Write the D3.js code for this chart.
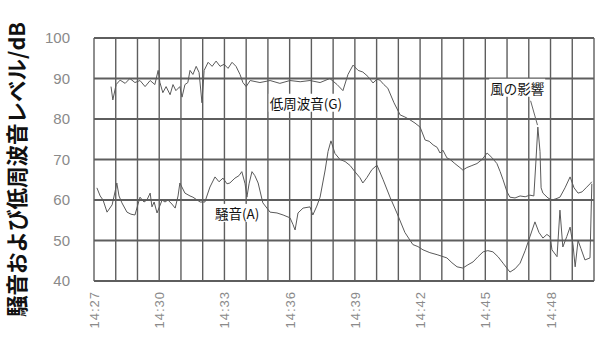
<!DOCTYPE html>
<html>
<head>
<meta charset="utf-8">
<script src="https://cdn.jsdelivr.net/npm/d3@7"></script>
<style>
  html, body { margin: 0; padding: 0; background: #fff; }
  svg { display: block; }
</style>
</head>
<body>
<svg id="chart" width="597" height="347"></svg>
<script>
// Low-frequency sound level (G-weighted), dB
const timesG = [
  "14:27:47","14:27:52","14:28:01","14:28:12","14:28:26","14:28:39","14:28:53","14:29:07","14:29:21","14:29:35",
  "14:29:48","14:29:57","14:30:02","14:30:10","14:30:19","14:30:30","14:30:38","14:30:46","14:30:57","14:31:03",
  "14:31:11","14:31:19","14:31:25","14:31:33","14:31:42","14:31:50","14:31:58","14:32:04","14:32:15","14:32:26",
  "14:32:37","14:32:48","14:32:59","14:33:10","14:33:21","14:33:32","14:33:43","14:33:51","14:34:00","14:34:11",
  "14:34:38","14:35:06","14:35:33","14:36:01","14:36:29","14:36:56","14:37:24","14:37:51","14:38:11","14:38:27",
  "14:38:41","14:38:55","14:39:09","14:39:22","14:39:36","14:39:50","14:40:01","14:40:09","14:40:20","14:40:31",
  "14:40:48","14:41:05","14:41:18","14:41:32","14:41:46","14:42:00","14:42:14","14:42:25","14:42:36","14:42:47",
  "14:42:55","14:43:03","14:43:14","14:43:23","14:43:36","14:43:50","14:43:58","14:44:09","14:44:23","14:44:37",
  "14:44:51","14:45:05","14:45:18","14:45:32","14:45:41","14:45:49","14:46:00","14:46:08","14:46:22","14:46:36",
  "14:46:50","14:47:03","14:47:14","14:47:20","14:47:25","14:47:31","14:47:34","14:47:39","14:47:53","14:48:04",
  "14:48:15","14:48:26","14:48:40","14:48:54","14:49:05","14:49:16","14:49:27","14:49:38","14:49:49","14:49:54"
];
const levelG = [
  88.0,84.7,88.5,89.6,88.8,90.0,89.0,89.5,88.0,89.5,
  88.5,92.0,89.0,86.5,88.0,86.0,88.5,87.0,88.0,85.4,
  88.5,89.0,92.0,91.0,93.0,91.5,84.0,92.0,94.0,93.0,
  94.3,93.0,93.5,92.5,94.0,93.0,91.0,89.0,88.0,89.5,
  89.0,89.5,88.8,89.5,89.2,89.5,89.0,90.0,88.5,87.0,
  91.0,93.3,92.0,91.6,90.5,88.9,89.8,89.6,88.5,87.6,
  84.0,81.0,80.5,79.8,79.0,78.0,74.8,74.5,73.6,73.0,
  71.6,72.3,70.4,70.0,69.0,68.0,67.4,68.0,68.5,69.0,
  70.0,71.6,70.5,69.0,67.0,65.0,62.0,60.7,60.5,61.0,
  60.8,61.2,61.0,70.0,78.0,72.0,63.0,61.7,60.5,60.0,
  60.3,60.7,63.0,65.7,63.0,61.7,62.0,63.0,64.0,64.5
];

// Noise level (A-weighted), dB
const timesA = [
  "14:27:08","14:27:17","14:27:25","14:27:36","14:27:50","14:27:58","14:28:03","14:28:09","14:28:17","14:28:31",
  "14:28:42","14:28:53","14:29:07","14:29:18","14:29:26","14:29:35","14:29:40","14:29:46","14:29:54","14:30:08",
  "14:30:16","14:30:24","14:30:35","14:30:44","14:30:52","14:30:57","14:31:11","14:31:25","14:31:33","14:31:53",
  "14:32:06","14:32:20","14:32:34","14:32:45","14:32:56","14:33:07","14:33:15","14:33:29","14:33:40","14:33:48",
  "14:33:57","14:34:02","14:34:08","14:34:16","14:34:24","14:34:33","14:34:46","14:35:06","14:35:25","14:35:42",
  "14:36:01","14:36:09","14:36:15","14:36:23","14:36:37","14:36:56","14:37:04","14:37:15","14:37:24","14:37:38",
  "14:37:46","14:37:54","14:38:05","14:38:19","14:38:33","14:38:47","14:39:00","14:39:14","14:39:22","14:39:33",
  "14:39:47","14:40:01","14:40:18","14:40:37","14:40:56","14:41:18","14:41:40","14:41:54","14:42:08","14:42:27",
  "14:42:47","14:43:14","14:43:28","14:43:42","14:43:58","14:44:12","14:44:26","14:44:40","14:44:54","14:45:07",
  "14:45:21","14:45:35","14:45:49","14:46:08","14:46:22","14:46:36","14:46:50","14:47:03","14:47:17","14:47:28",
  "14:47:39","14:47:50","14:47:59","14:48:04","14:48:18","14:48:26","14:48:34","14:48:45","14:48:54","14:49:02",
  "14:49:08","14:49:16","14:49:24","14:49:35","14:49:49","14:49:54"
];
const levelA = [
  63.0,61.0,60.0,57.0,58.8,62.0,64.2,61.0,59.3,57.0,
  56.5,56.3,60.7,59.5,60.0,61.7,58.3,59.5,56.8,60.0,
  59.5,60.0,59.0,58.0,61.0,64.2,61.7,61.0,60.7,59.5,
  59.5,63.2,65.7,64.5,65.4,64.0,64.2,65.4,66.0,67.0,
  64.0,60.7,64.0,67.0,66.0,64.2,59.3,57.0,56.8,56.3,
  55.6,54.0,52.6,56.8,58.0,58.3,56.3,58.5,60.7,67.4,
  72.0,74.6,71.5,70.0,69.5,68.5,67.0,65.5,64.2,65.5,
  67.5,68.6,65.0,60.7,56.8,52.0,49.0,48.5,47.7,47.0,
  46.5,45.7,44.5,43.5,43.2,44.0,44.7,46.0,47.2,47.5,
  47.2,46.0,44.4,42.2,43.0,44.4,47.5,50.9,54.6,52.0,
  50.6,51.5,50.9,47.7,46.0,57.5,48.4,51.0,53.3,49.0,
  43.5,50.0,48.0,45.2,45.7,64.0
];

const yTicks = [40, 50, 60, 70, 80, 90, 100];
const timeStart = "14:27";
const timeEnd = "14:50";
const yTitle = "騒音および低周波音レベル/dB";
const notes = [
  { text: "低周波音(G)", t: "14:36:45", v: 83.7 },
  { text: "騒音(A)", t: "14:33:35", v: 56.5 },
  { text: "風の影響", t: "14:46:28", v: 87.4 }
];
// leader from the wind note down to the spike in the G trace
const windLeader = [{ t: "14:47:05", v: 84.5 }, { t: "14:47:24", v: 78.5 }];

const parseHMS = d3.timeParse("%H:%M:%S");
const parseHM = d3.timeParse("%H:%M");

const svg = d3.select("#chart");
const W = 597, H = 347;
const margin = { left: 94, right: 3, top: 38, bottom: 66 };

const x = d3.scaleTime()
  .domain([parseHM(timeStart), parseHM(timeEnd)])
  .range([margin.left, W - margin.right]);
const y = d3.scaleLinear()
  .domain([40, 100])
  .range([H - margin.bottom, margin.top]);

const gridColor = "#5e5e5e";

// vertical grid: one line per minute
const minutes = d3.timeMinute.range(x.domain()[0], d3.timeMinute.offset(x.domain()[1], 1));
svg.append("g")
  .selectAll("line")
  .data(minutes)
  .join("line")
  .attr("x1", d => x(d)).attr("x2", d => x(d))
  .attr("y1", y(100)).attr("y2", y(40))
  .attr("stroke", gridColor)
  .attr("stroke-width", 1.4);

// horizontal grid
svg.append("g")
  .selectAll("line")
  .data(yTicks)
  .join("line")
  .attr("x1", x.range()[0]).attr("x2", x.range()[1])
  .attr("y1", d => y(d)).attr("y2", d => y(d))
  .attr("stroke", gridColor)
  .attr("stroke-width", 1.8);

// y axis labels
const yAxis = svg.append("g")
  .attr("transform", `translate(${margin.left - 24},0)`)
  .call(d3.axisLeft(y).tickValues(yTicks).tickSize(0).tickPadding(0));
yAxis.select(".domain").remove();
yAxis.selectAll("text")
  .attr("fill", "#8a8a8a")
  .style("font-family", "'Liberation Sans', Arial, sans-serif")
  .style("font-size", "15px");

// x axis labels, every 3 minutes, rotated
const xAxis = svg.append("g")
  .attr("transform", `translate(0,${H - margin.bottom})`)
  .call(d3.axisBottom(x)
    .ticks(d3.timeMinute.every(3))
    .tickFormat(d3.timeFormat("%H:%M"))
    .tickSize(0));
xAxis.select(".domain").remove();
xAxis.selectAll("text")
  .attr("fill", "#8a8a8a")
  .style("font-family", "'Liberation Sans', Arial, sans-serif")
  .style("font-size", "13px")
  .style("letter-spacing", "1px")
  .attr("text-anchor", "end")
  .attr("dy", "0.35em")
  .attr("transform", "translate(0,10) rotate(-90)")
  .attr("x", 0).attr("y", 0);

// data traces
const line = d3.line()
  .x(d => x(d.t))
  .y(d => y(d.v));

const seriesG = timesG.map((t, i) => ({ t: parseHMS(t), v: levelG[i] }));
const seriesA = timesA.map((t, i) => ({ t: parseHMS(t), v: levelA[i] }));

[seriesG, seriesA].forEach(s => {
  svg.append("path")
    .datum(s)
    .attr("d", line)
    .attr("fill", "none")
    .attr("stroke", "#5a5a5a")
    .attr("stroke-width", 1)
    .attr("stroke-linejoin", "round");
});

// leader line
svg.append("path")
  .datum(windLeader.map(d => ({ t: parseHMS(d.t), v: d.v })))
  .attr("d", line)
  .attr("fill", "none")
  .attr("stroke", "#666")
  .attr("stroke-width", 1);

// annotations with white backing
notes.forEach(n => {
  const g = svg.append("g");
  const txt = g.append("text")
    .attr("x", x(parseHMS(n.t)))
    .attr("y", y(n.v))
    .attr("dy", "0.35em")
    .attr("text-anchor", "middle")
    .attr("fill", "#111")
    .style("font-family", "'Noto Sans CJK JP', sans-serif")
    .style("font-size", "13.5px")
    .text(n.text);
  const bb = txt.node().getBBox();
  g.insert("rect", "text")
    .attr("x", bb.x - 1).attr("y", bb.y + 1)
    .attr("width", bb.width + 2).attr("height", bb.height - 2)
    .attr("fill", "#fff");
});

// y axis title
svg.append("text")
  .attr("transform", `translate(17,${(margin.top + H - margin.bottom) / 2 + 10}) rotate(-90)`)
  .attr("text-anchor", "middle")
  .attr("dy", "0.35em")
  .attr("fill", "#111")
  .style("font-family", "'Noto Sans CJK JP', sans-serif")
  .style("font-weight", "bold")
  .style("font-size", "21.5px")
  .text(yTitle);
</script>
</body>
</html>
